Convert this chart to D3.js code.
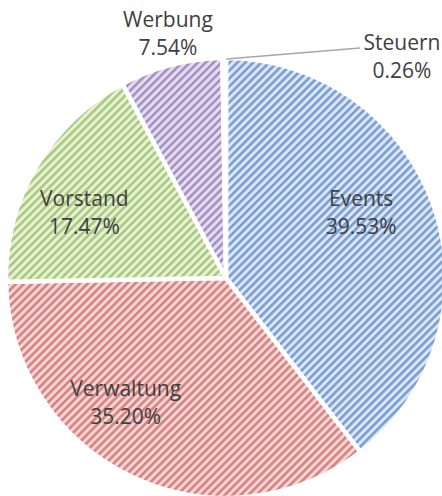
<!DOCTYPE html>
<html lang="de">
<head>
<meta charset="UTF-8">
<title>Kosten</title>
<script src="https://cdnjs.cloudflare.com/ajax/libs/d3/7.8.5/d3.min.js"></script>
<style>
  body { margin: 0; background: #fff; }
  text { font-family: "Open Sans", "Noto Sans", sans-serif; fill: #404040; }
</style>
</head>
<body>
<svg id="chart" width="442" height="496"></svg>
<script>
// data
const categories = ["Events", "Verwaltung", "Vorstand", "Werbung", "Steuern"];
const shares = [39.53, 35.20, 17.47, 7.54, 0.26];
const labelTexts = ["39.53%", "35.20%", "17.47%", "7.54%", "0.26%"];

// colours: light background + darker stripe per slice
const bgColors = ["#dce6f4", "#f3d6d5", "#e7f1da", "#e4ddee", "#dce6f4"];
const stripeColors = ["#789dd5", "#d8807e", "#a9c978", "#a38fc4", "#789dd5"];

const svg = d3.select("#chart");
const cx = 226, cy = 278, radius = 220;

// hatch patterns (wide upward diagonal)
const defs = svg.append("defs");
categories.forEach((c, i) => {
    const p = defs.append("pattern")
        .attr("id", "hatch" + i)
        .attr("patternUnits", "userSpaceOnUse")
        .attr("width", 5.6).attr("height", 5.6)
        .attr("patternTransform", "rotate(45)");
    p.append("rect").attr("width", 5.6).attr("height", 5.6).attr("fill", bgColors[i]);
    p.append("rect").attr("width", 2.6).attr("height", 5.6).attr("fill", stripeColors[i]);
});

const pie = d3.pie().sort(null).value(d => d);
const arcs = pie(shares);
const arc = d3.arc().innerRadius(0).outerRadius(radius);

const g = svg.append("g").attr("transform", `translate(${cx},${cy})`);

g.selectAll("path.slice")
    .data(arcs)
    .join("path")
    .attr("class", "slice")
    .attr("d", arc)
    .attr("fill", (d, i) => `url(#hatch${i})`)
    .attr("stroke", "#fff")
    .attr("stroke-width", 4.5)
    .attr("stroke-linejoin", "round");

// label placement: radius and small angle nudge per slice
const labelRadius = [150, 160, 156, 251, 0];
const labelAngleNudge = [-0.12, 0.23, -0.10, 0.02, 0];

function labelPos(d, i) {
    const a = (d.startAngle + d.endAngle) / 2 + labelAngleNudge[i];
    return [labelRadius[i] * Math.sin(a), -labelRadius[i] * Math.cos(a)];
}

const labels = g.selectAll("g.label")
    .data(arcs.slice(0, 4))
    .join("g")
    .attr("class", "label")
    .attr("transform", (d, i) => {
        const p = labelPos(d, i);
        return `translate(${p[0]},${p[1]})`;
    });

labels.append("text")
    .attr("text-anchor", "middle")
    .attr("font-size", 21)
    .attr("y", -7)
    .text((d, i) => categories[i]);
labels.append("text")
    .attr("text-anchor", "middle")
    .attr("font-size", 21)
    .attr("y", 21)
    .text((d, i) => labelTexts[i]);

// Steuern: tiny slice, label outside with leader line
const st = arcs[4];
const stMid = (st.startAngle + st.endAngle) / 2;
const lineStart = [(radius - 1) * Math.sin(stMid) + 2, -(radius - 1) * Math.cos(stMid)];
const stLabel = [176, -221];
g.append("path")
    .attr("d", d3.line()([lineStart, [stLabel[0] - 42, stLabel[1] - 9]]))
    .attr("stroke", "#a6a6a6")
    .attr("stroke-width", 1.5)
    .attr("fill", "none");
g.append("text")
    .attr("text-anchor", "middle")
    .attr("font-size", 21)
    .attr("x", stLabel[0]).attr("y", stLabel[1] - 7)
    .text(categories[4]);
g.append("text")
    .attr("text-anchor", "middle")
    .attr("font-size", 21)
    .attr("x", stLabel[0]).attr("y", stLabel[1] + 21)
    .text(labelTexts[4]);
</script>
</body>
</html>
